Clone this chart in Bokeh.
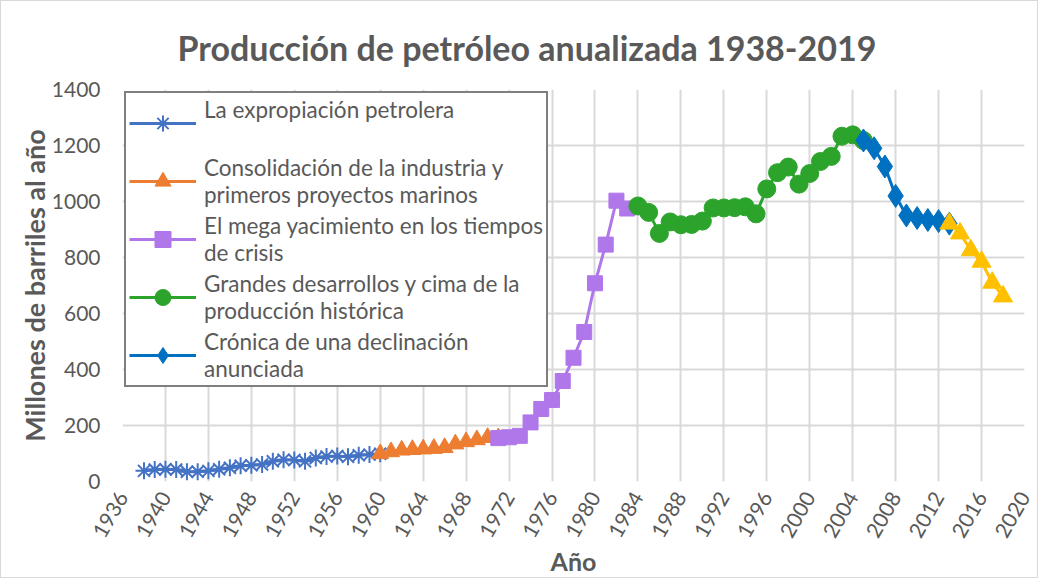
from bokeh.plotting import figure
from bokeh.models import Range1d, FixedTicker, Legend, LegendItem
from bokeh.embed import file_html
from bokeh.resources import INLINE

# ---- data ----
years_exp = list(range(1938, 1961))
prod_exp = [38, 43, 44, 43, 35, 35, 38, 44, 49, 56, 58, 61, 72, 78, 77, 72, 84, 89, 91, 88, 94, 96, 99]

years_con = list(range(1960, 1972))
prod_con = [99, 106, 112, 114, 116, 118, 121, 134, 142, 149, 157, 156]

years_meg = list(range(1971, 1984))
prod_meg = [155, 158, 163, 211, 259, 291, 359, 442, 534, 708, 846, 1003, 975]

years_gra = list(range(1984, 2006))
prod_gra = [984, 961, 886, 927, 917, 918, 930, 977, 977, 978, 981, 956, 1045, 1103, 1123, 1062, 1100, 1143, 1161, 1233, 1238, 1218]

years_dec = list(range(2005, 2014))
prod_dec = [1218, 1190, 1125, 1020, 950, 941, 934, 930, 921]

years_rec = list(range(2013, 2019))
prod_rec = [921, 886, 826, 785, 710, 661]

x_ticks = list(range(1936, 2021, 4))
y_ticks = list(range(0, 1401, 200))

labels = [
    "La expropiación petrolera\n ",
    "Consolidación de la industria y\nprimeros proyectos marinos",
    "El mega yacimiento en los tiempos\nde crisis",
    "Grandes desarrollos y cima de la\nproducción histórica",
    "Crónica de una declinación\nanunciada",
]

GRAY = "#595959"
FONT = "Lato"

p = figure(width=1038, height=578, output_backend="svg", toolbar_location=None,
           x_range=Range1d(1936, 2020), y_range=Range1d(0, 1400),
           min_border_left=121, min_border_right=15, min_border_top=88, min_border_bottom=96,
           title="Producción de petróleo anualizada 1938-2019")
p.styles = {"border": "1px solid #d9d9d9"}
p.outline_line_color = None

p.title.text_font = FONT
p.title.text_font_style = "bold"
p.title.text_font_size = "34px"
p.title.text_color = GRAY
p.title.align = "left"
p.title.offset = 55
p.title.standoff = 44

p.xaxis.ticker = FixedTicker(ticks=x_ticks)
p.yaxis.ticker = FixedTicker(ticks=y_ticks)
for ax in (p.xaxis[0], p.yaxis[0]):
    ax.axis_line_color = None
    ax.major_tick_line_color = None
    ax.minor_tick_line_color = None
    ax.major_label_text_font = FONT
    ax.major_label_text_font_size = "21px"
    ax.major_label_text_color = GRAY
    ax.axis_label_text_font = FONT
    ax.axis_label_text_font_style = "bold"
    ax.axis_label_text_font_size = "25px"
    ax.axis_label_text_color = GRAY
p.yaxis.axis_label_text_font_size = "27px"
p.xaxis.major_label_orientation = 1.05
p.yaxis.major_label_standoff = 16
p.xaxis.major_label_standoff = 6
p.xaxis.axis_label = "Año"
p.yaxis.axis_label = "Millones de barriles al año"
p.xaxis.axis_label_standoff = 0
p.yaxis.axis_label_standoff = -2

p.xgrid.grid_line_color = "#d9d9d9"
p.ygrid.grid_line_color = "#d9d9d9"
p.xgrid.grid_line_width = 2
p.ygrid.grid_line_width = 2

series = [
    (years_exp, prod_exp, "#4472C4", "asterisk", 17),
    (years_con, prod_con, "#ED7D31", "triangle", 17),
    (years_meg, prod_meg, "#B077EA", "square", 15),
    (years_gra, prod_gra, "#2CA42C", "circle", 18),
    (years_dec, prod_dec, "#0070C0", "diamond", 23),
    (years_rec, prod_rec, "#FFC000", "triangle", 19),
]

items = []
for i, (xs, ys, col, mk, sz) in enumerate(series):
    ln = p.line(xs, ys, line_color=col, line_width=3)
    if mk == "asterisk":
        sc = p.scatter(xs, ys, marker=mk, size=sz, line_color=col, line_width=2)
    else:
        sc = p.scatter(xs, ys, marker=mk, size=sz, fill_color=col, line_color=col)
    if i < len(labels):
        items.append(LegendItem(label=labels[i], renderers=[ln, sc]))

legend = Legend(items=items, location="top_left")
legend.margin = 2
legend.padding = 3
legend.spacing = 4
legend.border_line_color = "black"
legend.border_line_width = 2
legend.background_fill_color = "white"
legend.background_fill_alpha = 1
legend.label_text_font = FONT
legend.label_text_font_size = "22.5px"
legend.label_text_color = GRAY
legend.glyph_width = 67
legend.glyph_height = 40
legend.label_standoff = 8
p.add_layout(legend, "center")

open("out.html", "w").write(file_html(p, INLINE))
